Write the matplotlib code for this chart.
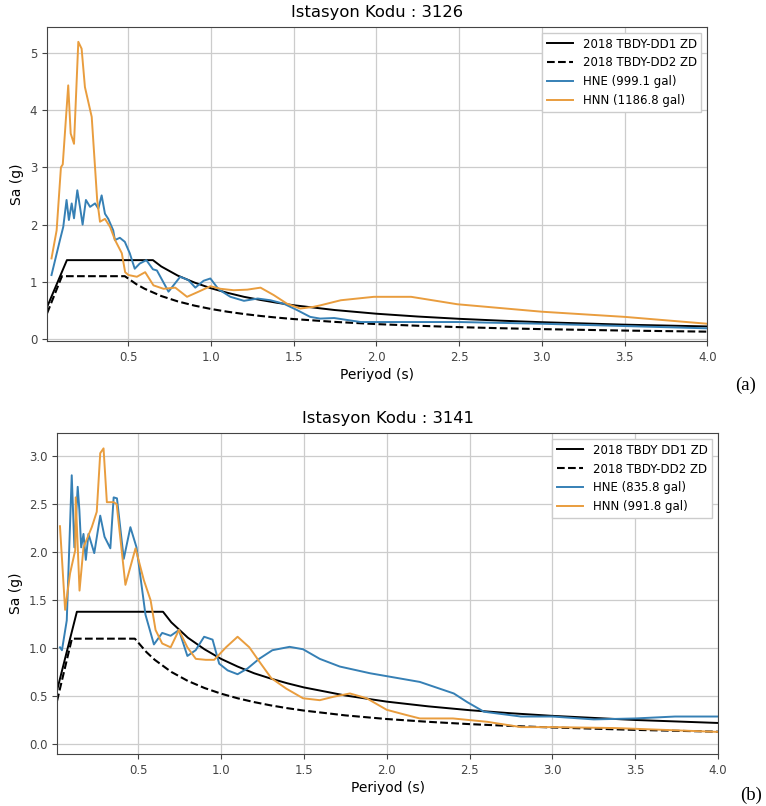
import matplotlib
matplotlib.use("Agg")
import matplotlib.pyplot as plt

# design spectra (same for both stations)
dd1_T = [0.01, 0.13, 0.65, 0.7, 0.8, 0.9, 1.0, 1.1, 1.2, 1.3, 1.4, 1.5,
         1.75, 2.0, 2.25, 2.5, 2.75, 3.0, 3.5, 4.0]
dd1_sa = [0.56, 1.38, 1.38, 1.27, 1.11, 0.99, 0.89, 0.81, 0.74, 0.685, 0.636, 0.593,
          0.509, 0.445, 0.396, 0.356, 0.324, 0.297, 0.254, 0.223]
dd2_T = [0.01, 0.1, 0.48, 0.55, 0.6, 0.7, 0.8, 0.9, 1.0, 1.1, 1.2, 1.3, 1.4, 1.5,
         1.75, 2.0, 2.25, 2.5, 2.75, 3.0, 3.5, 4.0]
dd2_sa = [0.45, 1.1, 1.1, 0.96, 0.88, 0.754, 0.66, 0.587, 0.528, 0.48, 0.44, 0.406,
          0.377, 0.352, 0.302, 0.264, 0.235, 0.211, 0.192, 0.176, 0.151, 0.132]

# station 3126
hne_a_T = [0.037, 0.088, 0.108, 0.128, 0.142, 0.159, 0.173, 0.193, 0.209, 0.225,
           0.245, 0.27, 0.30, 0.32, 0.34, 0.36, 0.38, 0.41, 0.42, 0.45, 0.48, 0.51,
           0.54, 0.57, 0.61, 0.65, 0.674, 0.744, 0.815, 0.865, 0.906, 0.956, 0.997,
           1.047, 1.118, 1.20, 1.283, 1.36, 1.44, 1.52, 1.60, 1.66, 1.745, 1.906,
           2.15, 2.5, 3.0, 3.5, 4.0]
hne_a_sa = [1.12, 1.73, 1.96, 2.43, 2.08, 2.37, 2.11, 2.60, 2.31, 2.0,
            2.43, 2.31, 2.37, 2.28, 2.51, 2.19, 2.1, 1.90, 1.73, 1.77, 1.70, 1.50,
            1.23, 1.32, 1.38, 1.22, 1.20, 0.83, 1.09, 1.03, 0.90, 1.02, 1.06,
            0.87, 0.74, 0.67, 0.71, 0.68, 0.62, 0.51, 0.39, 0.36, 0.37, 0.30,
            0.30, 0.30, 0.27, 0.23, 0.19]
hnn_a_T = [0.037, 0.068, 0.094, 0.105, 0.138, 0.153, 0.173, 0.199, 0.219, 0.239,
           0.28, 0.313, 0.33, 0.36, 0.391, 0.421, 0.462, 0.482, 0.502, 0.553, 0.603,
           0.653, 0.714, 0.785, 0.856, 0.926, 0.997, 1.058, 1.138, 1.22, 1.30, 1.38,
           1.46, 1.54, 1.62, 1.66, 1.785, 1.985, 2.21, 2.49, 3.0, 3.5, 4.0]
hnn_a_sa = [1.41, 1.90, 3.0, 3.05, 4.43, 3.59, 3.41, 5.19, 5.07, 4.40,
            3.88, 2.43, 2.05, 2.1, 1.96, 1.73, 1.50, 1.17, 1.12, 1.09, 1.17,
            0.94, 0.88, 0.90, 0.74, 0.83, 0.925, 0.88, 0.855, 0.865, 0.90, 0.77,
            0.62, 0.535, 0.565, 0.59, 0.68, 0.74, 0.74, 0.61, 0.48, 0.39, 0.27]

# station 3141
hne_b_T = [0.028, 0.04, 0.069, 0.099, 0.115, 0.135, 0.145, 0.156, 0.17, 0.184,
           0.20, 0.235, 0.271, 0.297, 0.332, 0.352, 0.372, 0.413, 0.453, 0.49,
           0.544, 0.595, 0.645, 0.696, 0.746, 0.797, 0.847, 0.898, 0.949, 0.989,
           1.04, 1.10, 1.16, 1.23, 1.31, 1.414, 1.495, 1.596, 1.717, 1.90, 2.20,
           2.405, 2.486, 2.587, 2.81, 3.0, 3.25, 3.5, 3.74, 4.0]
hne_b_sa = [1.01, 0.98, 1.29, 2.80, 2.05, 2.68, 2.44, 2.05, 2.19, 1.92,
            2.19, 1.99, 2.38, 2.16, 2.04, 2.57, 2.56, 1.93, 2.26, 2.05,
            1.35, 1.04, 1.16, 1.13, 1.19, 0.92, 0.98, 1.12, 1.09, 0.84,
            0.77, 0.73, 0.79, 0.89, 0.98, 1.015, 0.99, 0.89, 0.81, 0.74, 0.65,
            0.53, 0.44, 0.34, 0.29, 0.29, 0.26, 0.27, 0.29, 0.29]
hnn_b_T = [0.028, 0.059, 0.089, 0.12, 0.123, 0.146, 0.17, 0.22, 0.25, 0.271,
           0.291, 0.311, 0.352, 0.37, 0.423, 0.484, 0.534, 0.575, 0.605, 0.645,
           0.696, 0.746, 0.797, 0.848, 0.908, 0.959, 1.03, 1.10, 1.171, 1.232,
           1.303, 1.394, 1.495, 1.596, 1.677, 1.778, 1.879, 2.0, 2.12, 2.20,
           2.40, 2.607, 2.81, 3.0, 3.38, 3.69, 4.0]
hnn_b_sa = [2.27, 1.40, 1.78, 2.02, 2.57, 1.60, 2.05, 2.26, 2.42, 3.03,
            3.08, 2.52, 2.52, 2.50, 1.66, 2.04, 1.71, 1.50, 1.19, 1.05,
            1.01, 1.19, 1.01, 0.89, 0.88, 0.88, 1.01, 1.12, 1.01, 0.86,
            0.69, 0.58, 0.48, 0.46, 0.495, 0.53, 0.48, 0.36, 0.305, 0.27,
            0.27, 0.235, 0.18, 0.18, 0.17, 0.15, 0.13]

panels = [
    dict(code="3126", rect=[0.0614, 0.577, 0.862, 0.3896], ylim=(-0.03, 5.45),
         yticks=[0, 1, 2, 3, 4, 5], yfmt="{:.0f}",
         dd1="2018 TBDY-DD1 ZD", dd2="2018 TBDY-DD2 ZD",
         hne=(hne_a_T, hne_a_sa, "HNE (999.1 gal)"),
         hnn=(hnn_a_T, hnn_a_sa, "HNN (1186.8 gal)"),
         tag="(a)", tag_xy=(0.9595, 0.5223)),
    dict(code="3141", rect=[0.0744, 0.0645, 0.863, 0.3983], ylim=(-0.10, 3.24),
         yticks=[0.0, 0.5, 1.0, 1.5, 2.0, 2.5, 3.0], yfmt="{:.1f}",
         dd1="2018 TBDY DD1 ZD", dd2="2018 TBDY-DD2 ZD",
         hne=(hne_b_T, hne_b_sa, "HNE (835.8 gal)"),
         hnn=(hnn_b_T, hnn_b_sa, "HNN (991.8 gal)"),
         tag="(b)", tag_xy=(0.966, 0.0136)),
]

blue = "#3680b5"
orange = "#e99d3e"
xticks = [0.5, 1.0, 1.5, 2.0, 2.5, 3.0, 3.5, 4.0]

fig = plt.figure(figsize=(7.66, 8.06), dpi=100)

for p in panels:
    ax = fig.add_axes(p["rect"])
    ax.plot(dd1_T, dd1_sa, color="black", lw=1.4, label=p["dd1"])
    ax.plot(dd2_T, dd2_sa, color="black", lw=1.5, ls="--", label=p["dd2"])
    ax.plot(p["hne"][0], p["hne"][1], color=blue, lw=1.4, label=p["hne"][2])
    ax.plot(p["hnn"][0], p["hnn"][1], color=orange, lw=1.4, label=p["hnn"][2])

    ax.set_xlim(0.01, 4.0)
    ax.set_ylim(*p["ylim"])
    ax.set_xticks(xticks)
    ax.set_xticklabels(["{:.1f}".format(t) for t in xticks])
    ax.set_yticks(p["yticks"])
    ax.set_yticklabels([p["yfmt"].format(t) for t in p["yticks"]])
    ax.tick_params(labelsize=8.5, colors="#444444")
    ax.grid(True, color="#cccccc", lw=0.9)
    for s in ax.spines.values():
        s.set_color("#444444")

    ax.set_title("Istasyon Kodu : " + p["code"], fontsize=11.8, pad=7)
    ax.set_xlabel("Periyod (s)", fontsize=10, labelpad=3)
    ax.set_ylabel("Sa (g)", fontsize=10)
    ax.legend(loc="upper right", fontsize=8.5, framealpha=1.0,
              edgecolor="#cccccc", fancybox=False, handlelength=2.2)

    fig.text(p["tag_xy"][0], p["tag_xy"][1], p["tag"], fontsize=13.5,
             family="Liberation Serif", ha="left", va="center")

fig.savefig("out.png", dpi=100)
